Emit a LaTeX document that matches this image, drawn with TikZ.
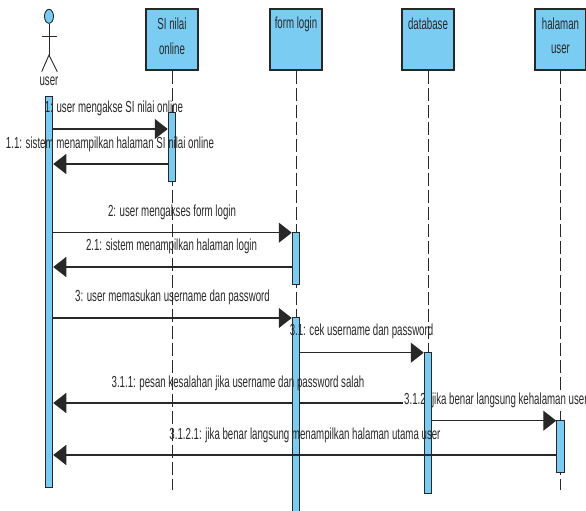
\documentclass[tikz,border=0pt]{standalone}
\usepackage{fontspec}
\setmainfont[FakeStretch=0.605]{Liberation Sans}
\usetikzlibrary{arrows.meta,shapes.geometric}
\definecolor{lb}{RGB}{122,204,242}
\definecolor{ink}{RGB}{40,40,40}
\tikzset{
  headbox/.style={draw=ink, line width=1.3pt, fill=lb, minimum width=52pt, minimum height=61pt, inner sep=0pt},
  actbar/.style={draw=ink, line width=1pt, fill=lb, minimum width=7.5pt, inner sep=0pt},
  life/.style={draw=ink, line width=0.9pt, dash pattern=on 13pt off 4pt},
  msg/.style={draw=ink, line width=1.3pt, -{Triangle[length=13pt,width=20pt]}},
  lbl/.style={text=ink, font=\fontsize{16}{19}\selectfont, inner sep=0pt},
  figline/.style={draw=ink, line width=0.9pt},
}
\begin{document}
\begin{tikzpicture}[x=1pt,y=-1pt]
\useasboundingbox (0,0) rectangle (586,511);
% actor
\node[draw=ink, line width=0.9pt, fill=lb, ellipse, minimum width=9pt, minimum height=14pt, inner sep=0pt] (uhead) at (49,16.3) {};
\coordinate (uhip) at (49,55);
\coordinate (uarml) at (41.5,36.7);
\coordinate (uarmr) at (56.5,36.7);
\coordinate (ulegl) at (41.7,71.7);
\coordinate (ulegr) at (57.3,71.7);
\draw[figline] (uhead.south) -- (uhip);
\draw[figline] (uarml) -- (uarmr);
\draw[figline] (ulegl) -- (uhip) -- (ulegr);
\node[lbl] (ulab) at (49,81) {user};
% heads
\node[headbox] (si) at (172,39.5) {};
\node[headbox] (fl) at (296,39.5) {};
\node[headbox] (db) at (428,39.5) {};
\node[headbox, minimum width=51pt] (hu) at (560.5,39.5) {};
\node[lbl] (sit1) at (172,24) {SI nilai};
\node[lbl] (sit2) at (172,49) {online};
\node[lbl] (flt) at (296,24) {form login};
\node[lbl] (dbt) at (428,24) {database};
\node[lbl] (hut1) at (560.5,24) {halaman};
\node[lbl] (hut2) at (560.5,49) {user};
% lifeline ends
\coordinate (siend) at (172,490);
\coordinate (flend) at (296,511);
\coordinate (dbend) at (428,493);
\coordinate (huend) at (560.5,490);
\draw[life] (si.south) -- (siend);
\draw[life] (fl.south) -- (flend);
\draw[life] (db.south) -- (dbend);
\draw[life] (hu.south) -- (huend);
% message rows
\coordinate (y1) at (0,129);
\coordinate (y11) at (0,164);
\coordinate (y2) at (0,232.7);
\coordinate (y21) at (0,267);
\coordinate (y3) at (0,318);
\coordinate (y31) at (0,352.7);
\coordinate (y311) at (0,403);
\coordinate (y312) at (0,420.7);
\coordinate (y3121) at (0,455);
% activation bar geometry
\coordinate (uac) at (49,291.5);
\coordinate (sac) at (172,146.5);
\coordinate (fa1c) at (296,258);
\coordinate (fa2c) at (296,416);
\coordinate (dac) at (428,422.5);
\coordinate (hac) at (560.5,446);
\path (uac) node[actbar, minimum height=391pt, draw=none, fill=none] (ua) {};
\path (dac) node[actbar, minimum height=141pt, draw=none, fill=none] (da) {};
% 3.1.1 arrow, partly hidden by the 3.1.2 label
\draw[msg] (da.west |- y311) -- (ua.east |- y311);
\node[lbl, anchor=west, fill=white, inner ysep=1pt, inner xsep=1pt] (l312) at (403,400) {3.1.2: jika benar langsung kehalaman user};
% activation bars
\path (uac) node[actbar, minimum height=391pt] {};
\path (sac) node[actbar, minimum height=69pt] (sa) {};
\path (fa1c) node[actbar, minimum height=52pt] (fa1) {};
\path (fa2c) node[actbar, minimum height=198pt] (fa2) {};
\path (dac) node[actbar, minimum height=141pt] {};
\path (hac) node[actbar, minimum height=52pt] (ha) {};
% messages
\draw[msg] (ua.east |- y1) -- (sa.west |- y1);
\draw[msg] (sa.west |- y11) -- (ua.east |- y11);
\draw[msg] (ua.east |- y2) -- (fa1.west |- y2);
\draw[msg] (fa1.west |- y21) -- (ua.east |- y21);
\draw[msg] (ua.east |- y3) -- (fa2.west |- y3);
\draw[msg] (fa2.east |- y31) -- (da.west |- y31);
\draw[msg] (da.east |- y312) -- (ha.west |- y312);
\draw[msg] (ha.west |- y3121) -- (ua.east |- y3121);
% labels
\node[lbl] (l1) at (114,108) {1: user mengakse SI nilai online};
\node[lbl] (l11) at (110,144) {1.1: sistem menampilkan halaman SI nilai online};
\node[lbl] (l2) at (172,212.7) {2: user mengakses form login};
\node[lbl] (l21) at (171.5,246.7) {2.1: sistem menampilkan halaman login};
\node[lbl] (l3) at (172.5,297) {3: user memasukan username dan password};
\node[lbl] (l31) at (361.5,331.7) {3.1: cek username dan password};
\node[lbl] (l311) at (238,383) {3.1.1: pesan kesalahan jika username dan password salah};
\node[lbl] (l3121) at (305,435) {3.1.2.1: jika benar langsung menampilkan halaman utama user};
\end{tikzpicture}
\end{document}
